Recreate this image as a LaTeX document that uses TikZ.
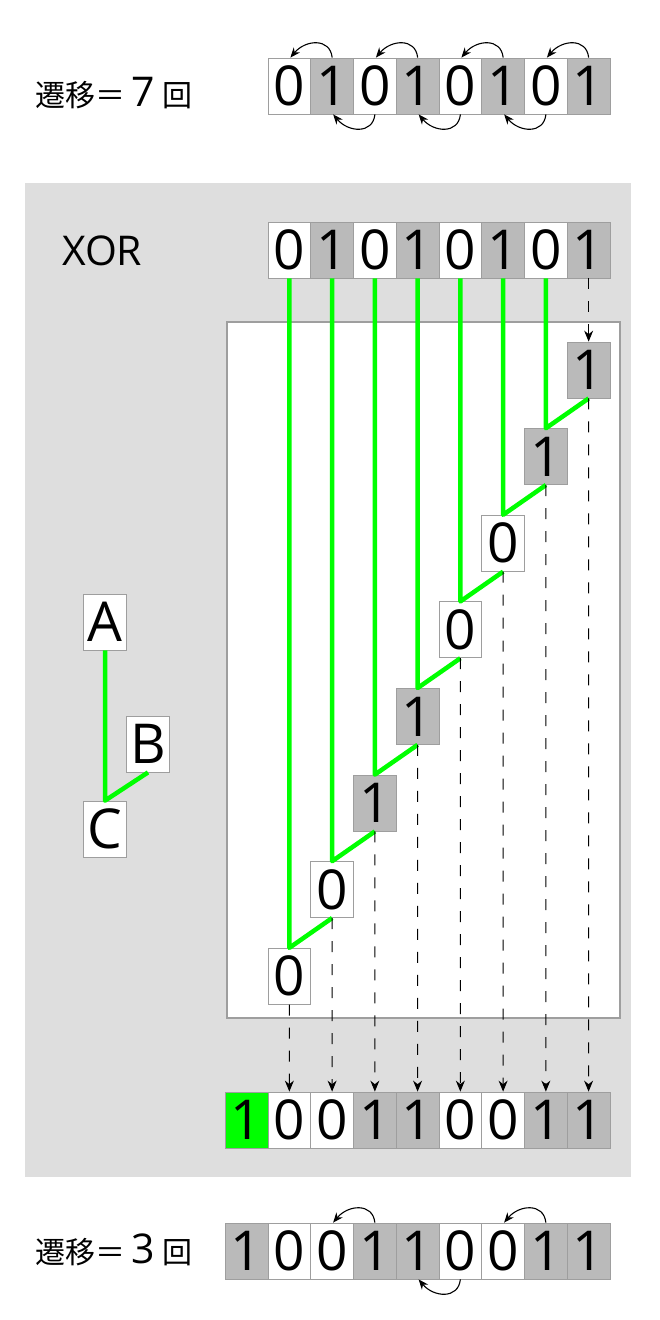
\documentclass[tikz,border=0pt]{standalone}
\usepackage{fontspec}
\setmainfont{Noto Sans CJK JP}
\newfontfamily\jpfont{Noto Sans CJK JP}
\newfontfamily\latinfont{Open Sans}
\usepackage{tikz}
\usetikzlibrary{arrows.meta}
\definecolor{PanelGray}{gray}{0.87}
\definecolor{BitGray}{gray}{0.73}
\definecolor{EdgeGray}{gray}{0.62}
\definecolor{XorGreen}{RGB}{0,255,0}
\colorlet{cell0}{white}
\colorlet{cell1}{BitGray}
\newcommand{\bitfont}{\latinfont\fontsize{55}{55}\selectfont}
\newcommand{\labfont}{\jpfont\fontsize{30}{30}\selectfont}
\newcommand{\numfont}{\latinfont\fontsize{41}{41}\selectfont}
\tikzset{
  bit/.style={draw=EdgeGray, line width=0.8pt, fill=cell#1, minimum width=42.75pt,
    minimum height=56pt, inner sep=0pt, font=\bitfont},
  flip/.style={-{Stealth[length=10pt,width=8pt]}, line width=1.1pt},
  feed/.style={-{Stealth[length=11pt,width=9pt]}, line width=0.9pt, dash pattern=on 11pt off 12pt},
  xorline/.style={XorGreen, line width=4.5pt, line join=round}
}

\begin{document}
\begin{tikzpicture}[x=1pt,y=-1pt]
  \useasboundingbox (0,0) rectangle (660,1320);
  \fill[white] (0,0) rectangle (660,1320);

  % input word, 7 transitions
  \node[anchor=base west, inner sep=0pt] (lab7) at (35,106)
    {\labfont 遷移＝\hspace{6pt}\numfont 7\hspace{8pt}\labfont 回};
  \foreach \v [count=\i from 0] in {0,1,0,1,0,1,0,1}
    \node[bit=\v] (a\i) at ({289.4+42.75*\i},86) {\v};
  \foreach \i/\j in {1/0,3/2,5/4,7/6}
    \draw[flip] (a\i.north) .. controls +(-2,-20) and +(15,-18) .. ([xshift=1pt]a\j.north);
  \foreach \i/\j in {2/1,4/3,6/5}
    \draw[flip] (a\i.south) .. controls +(-2,20) and +(15,18) .. ([xshift=1pt]a\j.south);

  % xor panel
  \fill[PanelGray] (25,183) rectangle (631,1177);
  \node[anchor=base west, inner sep=0pt, font=\numfont] (xorlab) at (62,265) {XOR};
  \draw[EdgeGray, line width=1.5pt, fill=white] (227,322) rectangle (620,1018);

  \foreach \v [count=\i from 0] in {0,1,0,1,0,1,0,1}
    \node[bit=\v] (x\i) at ({289.4+42.75*\i},250) {\v};
  \foreach \v [count=\i from 0] in {0,0,1,1,0,0,1,1}
    \node[bit=\v] (d\i) at ({289.4+42.75*\i},{370+86.6*(7-\i)}) {\v};
  \foreach \i [evaluate=\i as \k using int(\i+1)] in {0,...,6}
    \draw[xorline] (x\i.south) -- (d\i.north) -- (d\k.south);

  % result row
  \node[bit=1, fill=XorGreen] (r0) at (246.6,1120) {1};
  \foreach \v [count=\i from 1] in {0,0,1,1,0,0,1,1}
    \node[bit=\v] (r\i) at ({246.6+42.75*\i},1120) {\v};
  \draw[feed] (x7.south) -- (d7.north);
  \foreach \i [evaluate=\i as \k using int(\i+1)] in {0,...,7}
    \draw[feed] (d\i.south) -- (r\k.north);

  % legend: C = A xor B
  \node[bit=0] (ka) at (105,622) {A};
  \node[bit=0] (kb) at (148,744) {B};
  \node[bit=0] (kc) at (105,829) {C};
  \draw[xorline] (ka.south) -- (kc.north) -- (kb.south);

  % encoded word, 3 transitions
  \node[anchor=base west, inner sep=0pt] (lab3) at (35,1263)
    {\labfont 遷移＝\hspace{6pt}\numfont 3\hspace{8pt}\labfont 回};
  \foreach \v [count=\i from 0] in {1,0,0,1,1,0,0,1,1}
    \node[bit=\v] (b\i) at ({246.6+42.75*\i},1251) {\v};
  \foreach \i/\j in {3/2,7/6}
    \draw[flip] (b\i.north) .. controls +(-2,-20) and +(15,-18) .. ([xshift=1pt]b\j.north);
  \draw[flip] (b5.south) .. controls +(-2,20) and +(15,18) .. ([xshift=1pt]b4.south);
\end{tikzpicture}
\end{document}
